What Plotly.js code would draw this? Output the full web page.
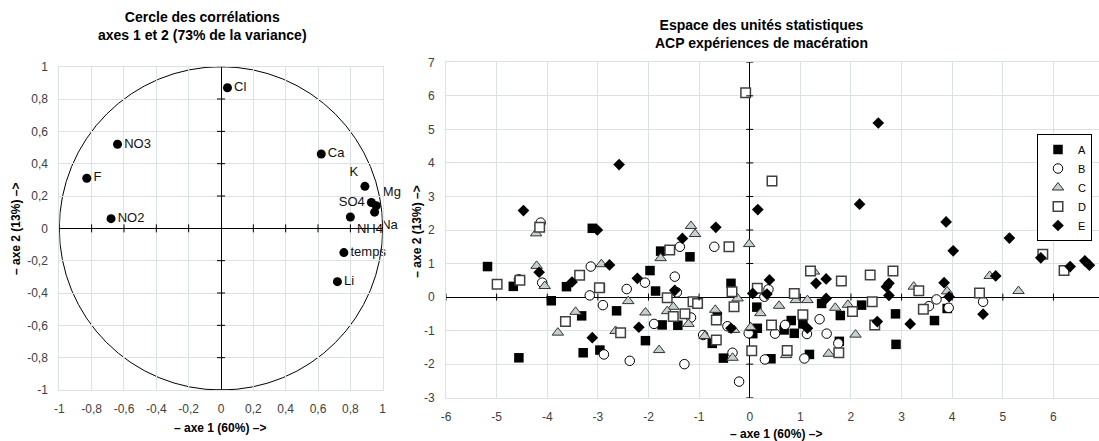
<!DOCTYPE html>
<html>
<head>
<meta charset="utf-8">
<script src="https://cdn.plot.ly/plotly-3.0.1.min.js"></script>
<style>html,body{margin:0;padding:0;background:#fff;}#chart{width:1099px;height:441px;}</style>
</head>
<body>
<div id="chart"></div>
<script>
// ---- Cercle des corrélations ----
const corrVars  = ['Cl','NO3','F','NO2','Ca','K','Mg','SO4','Na','NH4','temps','Li'];
const corrAxe1  = [0.04,-0.64,-0.83,-0.68,0.62,0.89,0.96,0.93,0.95,0.80,0.76,0.72];
const corrAxe2  = [0.87,0.52,0.31,0.06,0.46,0.26,0.14,0.16,0.10,0.07,-0.15,-0.33];

// ---- Espace des unités statistiques ----
const seriesNames = ['A','B','C','D','E'];
const aX = [-5.18,-4.67,-3.92,-3.62,-3.32,-4.56,-3.29,-3.11,-1.76,-1.18,-1.97,-1.86,-2.95,-2.63,-1.73,-1.42,-2.06,-2.96,-0.74,-0.64,-0.37,0.14,1.42,1.79,0.82,1.05,0.88,0.68,0.15,0.06,-0.52,0.42,1.18,1.77,3.90,3.65,2.88,2.89,2.21];
const aY = [0.91,0.32,-0.11,0.31,-0.56,-1.81,-1.66,2.05,1.37,1.20,0.79,0.18,0.27,-0.41,-0.83,-0.84,-1.30,-1.58,-1.38,-0.58,0.41,-0.30,-0.19,-0.55,-0.70,-0.80,-1.08,-0.98,-0.93,-1.09,-1.82,-1.84,-1.71,-1.32,-0.34,-0.70,-0.50,-1.41,-0.24];
const bX = [-4.13,-4.56,-4.10,-3.14,-2.07,-1.48,-2.43,-1.44,-3.16,-2.90,-1.16,-1.89,-2.88,-2.37,-1.29,-0.92,-1.38,-0.70,0.37,0.29,0.70,1.13,1.38,1.52,0.50,-0.02,-0.44,-0.34,-0.21,0.30,1.08,1.75,3.69,3.54,3.93,4.61];
const bY = [2.22,0.53,0.43,0.91,0.43,0.61,0.24,0.14,0.05,-0.24,-0.61,-0.80,-1.71,-1.90,-2.00,-1.13,1.50,1.50,0.23,0.01,-0.83,-1.10,-0.66,-1.09,-1.09,-1.08,-0.87,-1.66,-2.52,-1.86,-1.83,-1.38,-0.07,-0.27,-0.32,-0.14];
const cX = [-4.22,-4.21,-4.05,-3.44,-3.79,-1.16,-1.08,-1.76,-2.93,-2.40,-2.06,-1.51,-1.63,-1.21,-2.65,-1.79,-0.89,-0.68,-0.01,-0.24,0.21,0.58,0.91,1.14,1.27,1.69,1.94,0.02,-0.31,-0.34,0.72,1.56,2.09,3.24,3.90,4.74,5.31];
const cY = [1.90,0.93,0.33,-0.44,-1.06,2.12,1.88,1.16,0.98,-0.12,-0.46,-0.29,-0.42,-0.80,-1.01,-1.58,-1.16,-0.38,1.58,-0.04,-0.48,-0.26,-0.09,-0.09,0.76,-0.32,-0.23,-0.90,-0.98,-1.81,-1.73,-1.69,-1.12,0.31,0.17,0.63,0.18];
const dX = [-4.15,-4.99,-4.54,-3.36,-3.64,-1.58,-2.97,-1.63,-1.51,-1.28,-2.55,-0.66,-1.12,-1.03,-0.66,-0.08,0.44,-0.41,-0.35,-0.31,0.15,0.88,1.20,1.81,2.03,1.05,0.43,0.04,0.74,1.76,2.38,2.83,3.34,3.43,2.42,2.47,4.54,5.79,6.21];
const dY = [2.08,0.38,0.50,0.65,-0.73,1.40,0.28,-0.02,-0.58,-0.50,-1.06,-1.28,-0.14,-0.19,-0.68,6.09,3.46,1.50,0.16,-0.29,0.26,0.11,0.78,0.48,-0.43,-0.53,-0.83,-1.60,-1.59,-1.66,0.66,0.78,0.19,-0.36,-0.14,-0.83,0.12,1.28,0.79];
const eX = [-4.47,-4.16,-3.51,-3.01,-2.58,-0.67,-1.33,-2.77,-2.22,-1.48,-2.19,-3.11,0.16,0.39,0.06,0.34,1.51,1.31,1.51,1.14,-0.37,2.54,2.17,3.88,4.02,5.13,5.75,6.33,6.62,6.71,4.86,4.61,2.70,2.75,2.75,3.84,3.94,3.17,2.52];
const eY = [2.58,0.74,0.45,2.00,3.95,2.08,1.75,0.96,0.56,0.20,-0.90,-1.21,2.61,0.51,0.11,0.09,-0.04,0.41,0.54,-0.93,-0.93,5.19,2.77,2.24,1.38,1.76,1.17,0.91,1.08,0.95,0.63,-0.51,0.31,0.41,0.05,0.43,0.01,-0.80,-0.73];

// tick values
const corrTicks = [-1,-0.8,-0.6,-0.4,-0.2,0,0.2,0.4,0.6,0.8,1];
const unitXTicks = [-6,-5,-4,-3,-2,-1,0,1,2,3,4,5,6];
const unitYTicks = [-3,-2,-1,0,1,2,3,4,5,6,7];

// ---- styles ----
const W = 1099, H = 441;
const fontFam = '"Liberation Sans", Arial, sans-serif';
const gridCol = '#d9e2e4';
const labelPos = ['middle right','middle right','middle right','middle right','middle right','top left','top right','middle left','bottom right','bottom right','middle right','middle right'];
const fmt = v => (v < 0 ? '-' : '') + String(Math.abs(Math.round(v*10)/10)).replace('.', ',');

const traces = [
  {x: corrAxe1, y: corrAxe2, text: corrVars, xaxis: 'x', yaxis: 'y', type: 'scatter', mode: 'markers+text',
   textposition: labelPos, textfont: {family: fontFam, size: 13, color: '#111'},
   marker: {color: '#000', size: 9}, showlegend: false, cliponaxis: false, hoverinfo: 'skip'}
];
const unitStyles = [
  {symbol: 'square', size: 9.5, color: '#000', line: {color: '#000', width: 0}},
  {symbol: 'circle', size: 9.5, color: '#fff', line: {color: '#000', width: 1}},
  {symbol: 'triangle-up', size: 10, color: '#c5d1d1', line: {color: '#333', width: 1}},
  {symbol: 'square', size: 9.5, color: '#fff', line: {color: '#404040', width: 1.5}},
  {symbol: 'diamond', size: 9, color: '#000', line: {color: '#000', width: 0}}
];
const unitX = [aX, bX, cX, dX, eX];
const unitY = [aY, bY, cY, dY, eY];
seriesNames.forEach((n, i) => {
  traces.push({x: unitX[i], y: unitY[i], name: n, xaxis: 'x2', yaxis: 'y2', type: 'scatter', mode: 'markers',
    marker: unitStyles[i], cliponaxis: false});
});

// tick marks crossing the zero axes
const shapes = [
  {type: 'circle', xref: 'x', yref: 'y', x0: -1, x1: 1, y0: -1, y1: 1, line: {color: '#000', width: 1}, layer: 'below'}
];
corrTicks.forEach(v => {
  if (v === 0) return;
  shapes.push({type: 'line', xref: 'x', yref: 'y', ysizemode: 'pixel', yanchor: 0, x0: v, x1: v, y0: -4, y1: 4, line: {color: '#000', width: 1}});
  shapes.push({type: 'line', xref: 'x', yref: 'y', xsizemode: 'pixel', xanchor: 0, y0: v, y1: v, x0: -4, x1: 4, line: {color: '#000', width: 1}});
});
unitXTicks.forEach(v => {
  if (v === 0) return;
  shapes.push({type: 'line', xref: 'x2', yref: 'y2', ysizemode: 'pixel', yanchor: 0, x0: v, x1: v, y0: -3.5, y1: 3.5, line: {color: '#000', width: 1}});
});
unitYTicks.forEach(v => {
  if (v === 0) return;
  shapes.push({type: 'line', xref: 'x2', yref: 'y2', xsizemode: 'pixel', xanchor: 0, y0: v, y1: v, x0: -3.5, x1: 3.5, line: {color: '#000', width: 1}});
});

const tickFont = {family: fontFam, size: 12, color: '#404040'};
const axBase = {showgrid: true, gridcolor: gridCol, gridwidth: 1, zeroline: true, zerolinecolor: '#000', zerolinewidth: 1,
  showline: true, linecolor: gridCol, linewidth: 1, ticks: '', tickfont: tickFont, fixedrange: true, tickmode: 'array'};

const layout = {
  width: W, height: H, margin: {l: 0, r: 0, t: 0, b: 0}, paper_bgcolor: '#fff', plot_bgcolor: '#fff',
  font: {family: fontFam},
  showlegend: true,
  legend: {x: 1092/W, xanchor: 'right', y: 1 - 134/H, yanchor: 'top', bgcolor: '#fff', bordercolor: '#000', borderwidth: 1,
    font: {family: fontFam, size: 11, color: '#000'}, itemwidth: 30, tracegroupgap: 0},
  xaxis: Object.assign({}, axBase, {domain: [59.3/W, 382.7/W], range: [-1, 1], anchor: 'y', mirror: true,
    tickvals: corrTicks, ticktext: corrTicks.map(fmt), ticklabelstandoff: 8}),
  yaxis: Object.assign({}, axBase, {domain: [1 - 390/H, 1 - 66.7/H], range: [-1, 1], anchor: 'x', mirror: true,
    tickvals: corrTicks, ticktext: corrTicks.map(fmt), ticklabelstandoff: 8}),
  xaxis2: Object.assign({}, axBase, {domain: [446/W, 1], range: [-6, 6.9], anchor: 'y2', mirror: true,
    tickvals: unitXTicks, ticktext: unitXTicks.map(fmt), ticklabelstandoff: 8}),
  yaxis2: Object.assign({}, axBase, {domain: [1 - 397.7/H, 1 - 62.3/H], range: [-3, 7], anchor: 'x2', mirror: false,
    tickvals: unitYTicks, ticktext: unitYTicks.map(fmt), ticklabelstandoff: 8}),
  shapes: shapes,
  annotations: [
    {text: '<b>Cercle des corrélations</b><br><b>axes 1 et 2 (73% de la variance)</b>', xref: 'paper', yref: 'paper',
     x: 203/W, y: 1 - 25.8/H, xanchor: 'center', yanchor: 'middle', showarrow: false, font: {family: fontFam, size: 14, color: '#000'}},
    {text: '<b>Espace des unités statistiques</b><br><b>ACP expériences de macération</b>', xref: 'paper', yref: 'paper',
     x: 761/W, y: 1 - 34/H, xanchor: 'center', yanchor: 'middle', showarrow: false, font: {family: fontFam, size: 14, color: '#000'}},
    {text: '<b>– axe 1 (60%) –></b>', xref: 'paper', yref: 'paper', x: 220/W, y: 1 - 427.7/H, xanchor: 'center', yanchor: 'middle',
     showarrow: false, font: {family: fontFam, size: 12, color: '#000'}},
    {text: '<b>– axe 1 (60%) –></b>', xref: 'paper', yref: 'paper', x: 776/W, y: 1 - 434.3/H, xanchor: 'center', yanchor: 'middle',
     showarrow: false, font: {family: fontFam, size: 12, color: '#000'}},
    {text: '<b>– axe 2 (13%) –></b>', xref: 'paper', yref: 'paper', x: 16/W, y: 1 - 229/H, xanchor: 'center', yanchor: 'middle',
     textangle: -90, showarrow: false, font: {family: fontFam, size: 12, color: '#000'}},
    {text: '<b>– axe 2 (13%) –></b>', xref: 'paper', yref: 'paper', x: 416.7/W, y: 1 - 232/H, xanchor: 'center', yanchor: 'middle',
     textangle: -90, showarrow: false, font: {family: fontFam, size: 12, color: '#000'}}
  ]
};

Plotly.newPlot('chart', traces, layout, {staticPlot: true, displayModeBar: false});
</script>
</body>
</html>
